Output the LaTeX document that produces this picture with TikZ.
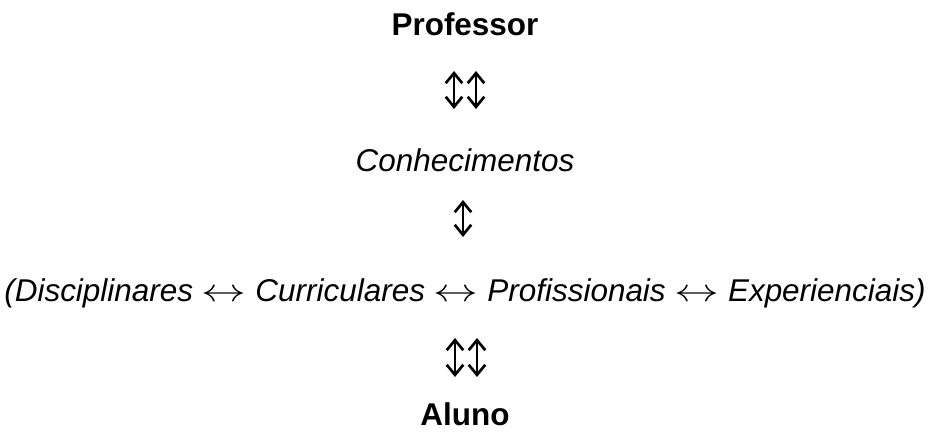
\documentclass[tikz,border=0pt]{standalone}
\usepackage{fontspec}
\setmainfont{Liberation Sans}
\usepackage{graphicx}
\usepackage{tikz}
\usetikzlibrary{arrows.meta, positioning}
\newcommand{\lr}{\scalebox{1.4}[1]{$\leftrightarrow$}}

\begin{document}
\begin{tikzpicture}[x=0.375pt, y=0.375pt,
    txt/.style={inner sep=0pt, anchor=base, font=\fontsize{11.8}{14}\selectfont},
    hd/.style={txt, font=\fontsize{11.8}{14}\selectfont\bfseries},
    it/.style={txt, font=\fontsize{11.8}{14}\selectfont\itshape},
    ud/.style={{Straight Barb[length=3.8pt, width=6.2pt, line width=1pt]}-{Straight Barb[length=3.8pt, width=6.2pt, line width=1pt]},
               line width=0.75pt}]
  \useasboundingbox (0,0) rectangle (930,434);
  % rows, from top to bottom
  \node[hd] (prof) at (465,398) {Professor};
  \node[it] (conh) at (465,262) {Conhecimentos};
  \node[it] (tipos) at (465,132) {(Disciplinares \lr{} Curriculares \lr{} Profissionais \lr{} Experienciais)};
  \node[hd] (alun) at (465,8)   {Aluno};
  % up-down arrows between the rows
  \coordinate (u1a) at (454,363); \coordinate (d1a) at (454,325);
  \coordinate (u1b) at (476,363); \coordinate (d1b) at (476,325);
  \coordinate (u2)  at (463,234); \coordinate (d2)  at (463,197);
  \coordinate (u3a) at (455,96);  \coordinate (d3a) at (455,57);
  \coordinate (u3b) at (477,96);  \coordinate (d3b) at (477,57);
  \draw[ud] (u1a) -- (d1a);
  \draw[ud] (u1b) -- (d1b);
  \draw[ud] (u2) -- (d2);
  \draw[ud] (u3a) -- (d3a);
  \draw[ud] (u3b) -- (d3b);
\end{tikzpicture}
\end{document}
